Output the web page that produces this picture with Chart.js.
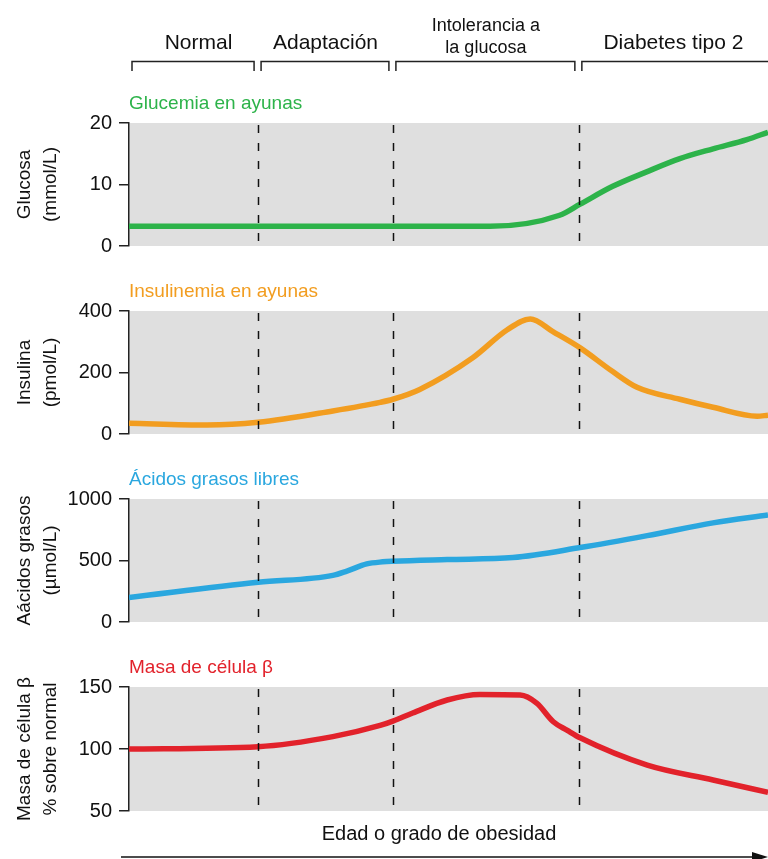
<!DOCTYPE html>
<html>
<head>
<meta charset="utf-8">
<script src="https://cdn.jsdelivr.net/npm/chart.js@4.4.1/dist/chart.umd.min.js"></script>
<style>
  body { margin: 0; background: #fff; }
  #wrap { position: relative; width: 768px; height: 859px; overflow: hidden; }
  #wrap canvas { position: absolute; left: 0; }
</style>
</head>
<body>
<div id="wrap">
  <canvas id="glucose" width="768" height="265" style="top:0px"></canvas>
  <canvas id="insulin" width="768" height="188" style="top:265px"></canvas>
  <canvas id="ffa" width="768" height="188" style="top:453px"></canvas>
  <canvas id="beta" width="768" height="218" style="top:641px"></canvas>
</div>
<script>
// stages along the x axis (0 = start, 100 = end)
const stageNames = ["Normal", "Adaptación", ["Intolerancia a", "la glucosa"], "Diabetes tipo 2"];
const stageEdges = [0, 20.2, 41.3, 70.4, 100];

// Glucemia en ayunas (mmol/L)
const glucoseX = [0, 20, 41, 56.5, 67.4, 70.6, 75.7, 81.1, 86.2, 91.4, 96.7, 100];
const glucoseY = [3.2, 3.2, 3.2, 3.2, 5.0, 6.8, 9.7, 12.1, 14.2, 15.8, 17.3, 18.5];

// Insulinemia en ayunas (pmol/L)
const insulinX = [0, 12.2, 20.2, 31.9, 39.3, 41.3, 45.5, 53.8, 59.2, 62.8, 66.4, 70.6, 75.7, 79.5, 86.2, 91.4, 98.3, 100];
const insulinY = [35, 29, 38, 75, 103, 113, 145, 248, 339, 374, 332, 280, 203, 152, 113, 87, 58, 61];

// Ácidos grasos libres (µmol/L)
const ffaX = [0, 20.2, 31.9, 34.1, 37.2, 39.7, 41.3, 49.8, 60.1, 70.6, 81.1, 91.4, 100];
const ffaY = [200, 323, 379, 414, 472, 489, 494, 508, 524, 605, 702, 806, 871];

// Masa de célula beta (% sobre normal)
const betaX = [0, 20.2, 31.9, 39.3, 41.3, 44.4, 49.8, 54.9, 61.2, 63.8, 66.4, 68.6, 70.6, 81.1, 91.4, 100];
const betaY = [100, 101.9, 110, 119, 122.5, 129, 139.5, 144, 143.5, 137, 122, 115, 109, 87, 75, 65];

Chart.defaults.font.family = "'Liberation Sans', Arial, sans-serif";
Chart.defaults.color = "#111";

const panelDecor = {
  id: "panelDecor",
  beforeDraw(chart) {
    const { ctx, chartArea: a } = chart;
    ctx.save();
    ctx.fillStyle = "#dfdfdf";
    ctx.fillRect(a.left, a.top, a.right - a.left, a.bottom - a.top);
    ctx.restore();
  },
  afterDatasetsDraw(chart) {
    const { ctx, chartArea: a, scales } = chart;
    ctx.save();
    ctx.strokeStyle = "#111";
    ctx.lineWidth = 1.5;
    ctx.setLineDash([8, 10]);
    stageEdges.slice(1, -1).forEach((v) => {
      const px = Math.round(scales.x.getPixelForValue(v)) + 0.5;
      ctx.beginPath();
      ctx.moveTo(px, a.top + 2);
      ctx.lineTo(px, a.bottom);
      ctx.stroke();
    });
    ctx.restore();
  },
  afterDraw(chart, args, opts) {
    const { ctx, chartArea: a } = chart;
    ctx.save();
    ctx.fillStyle = opts.color;
    ctx.font = "19px 'Liberation Sans', Arial, sans-serif";
    ctx.textAlign = "left";
    ctx.textBaseline = "alphabetic";
    ctx.fillText(opts.label, a.left, a.top - 14);
    ctx.restore();
  },
};

// stage labels and brackets above the first panel
const stageHeader = {
  id: "stageHeader",
  afterDraw(chart) {
    const { ctx, scales: { x } } = chart;
    ctx.save();
    ctx.strokeStyle = "#222";
    ctx.lineWidth = 1.5;
    ctx.fillStyle = "#111";
    ctx.textAlign = "center";
    ctx.textBaseline = "alphabetic";
    for (let i = 0; i < stageNames.length; i++) {
      const l = x.getPixelForValue(stageEdges[i]) + 3;
      const last = i === stageNames.length - 1;
      const r = last ? 780 : x.getPixelForValue(stageEdges[i + 1]) - 4;
      ctx.beginPath();
      ctx.moveTo(l, 71);
      ctx.lineTo(l, 61.5);
      ctx.lineTo(r, 61.5);
      if (!last) ctx.lineTo(r, 71);
      ctx.stroke();
      const cx = x.getPixelForValue((stageEdges[i] + stageEdges[i + 1]) / 2);
      const name = stageNames[i];
      if (Array.isArray(name)) {
        ctx.font = "18px 'Liberation Sans', Arial, sans-serif";
        ctx.fillText(name[0], cx, 31);
        ctx.fillText(name[1], cx, 53);
      } else {
        ctx.font = "21px 'Liberation Sans', Arial, sans-serif";
        ctx.fillText(name, i === 0 ? cx + 5 : cx, 49);
      }
    }
    ctx.restore();
  },
};

// x-axis caption and arrow under the last panel
const xCaption = {
  id: "xCaption",
  afterDraw(chart) {
    const { ctx } = chart;
    ctx.save();
    ctx.fillStyle = "#111";
    ctx.font = "20px 'Liberation Sans', Arial, sans-serif";
    ctx.textAlign = "center";
    ctx.fillText("Edad o grado de obesidad", 439, 199);
    ctx.strokeStyle = "#111";
    ctx.lineWidth = 1.5;
    ctx.beginPath();
    ctx.moveTo(121, 216);
    ctx.lineTo(760, 216);
    ctx.stroke();
    ctx.beginPath();
    ctx.moveTo(768, 216);
    ctx.lineTo(752, 211);
    ctx.lineTo(752, 221);
    ctx.closePath();
    ctx.fill();
    ctx.restore();
  },
};

function makePanel(id, xs, ys, color, label, axisTitle, yMin, yMax, step, pad, extra) {
  const points = xs.map((x, i) => ({ x: x, y: ys[i] }));
  return new Chart(document.getElementById(id), {
    type: "line",
    data: {
      datasets: [
        {
          data: points,
          borderColor: color,
          borderWidth: 5.5,
          pointRadius: 0,
          cubicInterpolationMode: "monotone",
          fill: false,
        },
      ],
    },
    options: {
      responsive: false,
      animation: false,
      events: [],
      layout: { padding: { top: pad[0], bottom: pad[1], left: 0, right: 0 } },
      plugins: {
        legend: { display: false },
        tooltip: { enabled: false },
        panelDecor: { color: color, label: label },
      },
      scales: {
        x: { type: "linear", min: 0, max: 100, display: false },
        y: {
          min: yMin,
          max: yMax,
          afterFit: (s) => { s.width = 129; },
          ticks: {
            stepSize: step,
            padding: 7,
            color: "#111",
            font: { size: 20 },
            format: { useGrouping: false },
          },
          grid: {
            drawOnChartArea: false,
            drawTicks: true,
            tickLength: 10,
            color: "#222",
            lineWidth: 1.5,
          },
          border: { display: true, color: "#222", width: 1.5 },
          title: {
            display: true,
            text: axisTitle,
            color: "#111",
            font: { size: 19, lineHeight: 1.4 },
            padding: { top: 11, bottom: 0 },
          },
        },
      },
    },
    plugins: [panelDecor].concat(extra || []),
  });
}

makePanel("glucose", glucoseX, glucoseY, "#2db34a", "Glucemia en ayunas",
  ["Glucosa", "(mmol/L)"], 0, 20, 10, [123, 18], [stageHeader]);
makePanel("insulin", insulinX, insulinY, "#f29d20", "Insulinemia en ayunas",
  ["Insulina", "(pmol/L)"], 0, 400, 200, [46, 18]);
makePanel("ffa", ffaX, ffaY, "#2aa7df", "Ácidos grasos libres",
  ["Aácidos grasos", "(µmol/L)"], 0, 1000, 500, [46, 18]);
makePanel("beta", betaX, betaY, "#e2222b", "Masa de célula β",
  ["Masa de célula β", "% sobre normal"], 50, 150, 50, [46, 48], [xCaption]);
</script>
</body>
</html>
